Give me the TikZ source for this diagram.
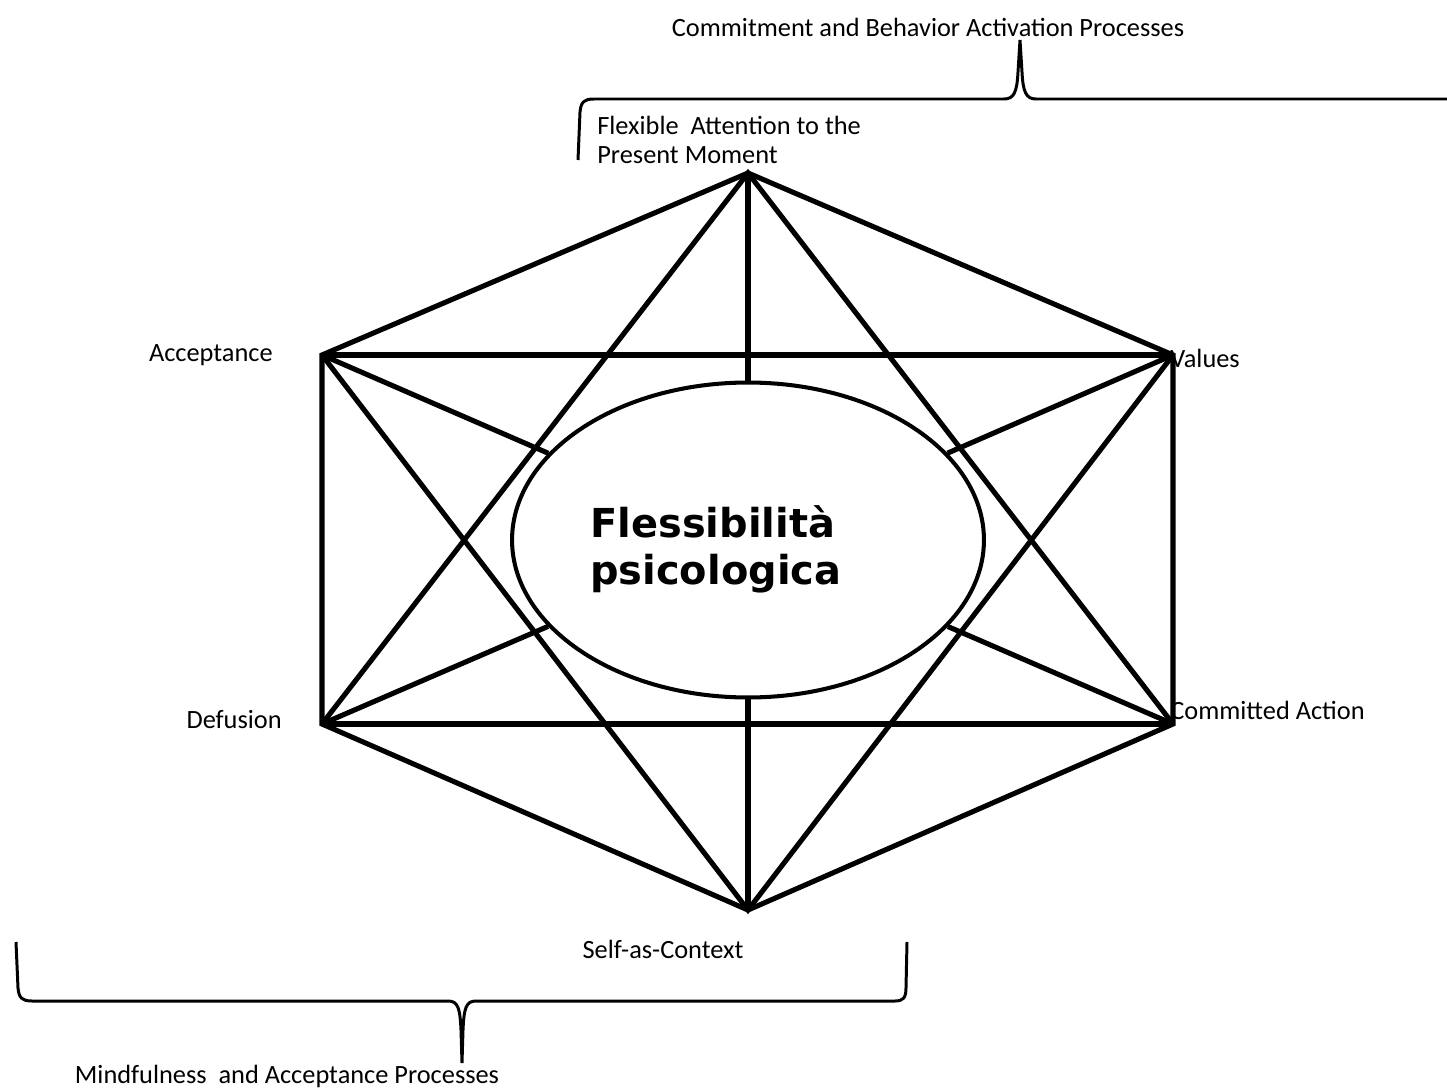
\documentclass[tikz,border=0pt]{standalone}
\usepackage{fontspec}
\setmainfont{Carlito}
\newfontfamily\titlefont{DejaVu Sans Bold}
\usetikzlibrary{positioning,shapes.geometric}

\begin{document}
\begin{tikzpicture}[x=0.02cm, y=-0.02cm,
    edge/.style={line width=2.9pt},
    brace/.style={line width=1.7pt},
    lbl/.style={font=\fontsize{15}{17}\selectfont, inner sep=0pt},
    ttl/.style={font=\titlefont\fontsize{22.7}{26.7}\selectfont, inner sep=0pt, anchor=base west}]
  \useasboundingbox (0,0) rectangle (1447,1088);

  % the six processes
  \coordinate (t) at (748,173);
  \coordinate (a) at (322,355);
  \coordinate (v) at (1173,355);
  \coordinate (d) at (322,724);
  \coordinate (c) at (1173,724);
  \coordinate (s) at (748,910);

  \node[ellipse, draw, line width=2.3pt, fill=white,
        minimum width=9.44cm, minimum height=6.3cm] (psi) at (748,540) {};
  \node[ttl] (title1) at (590,537) {Flessibilità};
  \node[ttl] (title2) at (590,584) {psicologica};

  % hexagon, rectangle and triangles
  \draw[edge] (t) -- (a) -- (d) -- (s) -- (c) -- (v) -- cycle;
  \draw[edge] (a) -- (v) (d) -- (c);
  \draw[edge] (d) -- (t) -- (c) (a) -- (s) -- (v);
  % spokes
  \foreach \p in {t,a,v,d,c,s}
    \draw[edge] (\p) -- (psi);

  % labels
  \node[lbl, anchor=west, align=left] (fam) at (597,140)
    {Flexible~ Attention to the\\Present Moment};
  \node[lbl, anchor=east] (acc) at (273,355) {Acceptance};
  \node[lbl, anchor=west] (val) at (1170,358) {Values};
  \node[lbl, anchor=east] (def) at (282,720) {Defusion};
  \node[lbl, anchor=west] (com) at (1170,710) {Committed Action};
  \node[lbl] (sac) at (663,949) {Self-as-Context};
  \node[lbl] (cba) at (928,27) {Commitment and Behavior Activation Processes};
  \node[lbl] (map) at (287,1076) {Mindfulness~ and Acceptance Processes};

  % braces
  \coordinate (tip1) at (1020,40);
  \coordinate (tip2) at (462,1063);
  \draw[brace] (578,160) -- (580,112) .. controls (581,102) and (584,99) .. (594,99)
    -- (1004,99) .. controls (1014,99) and (1017,92) .. (1018,72) -- (tip1)
    -- (1022,72) .. controls (1023,92) and (1026,99) .. (1036,99) -- (1447,99);
  \draw[brace] (16,942) -- (18,988) .. controls (19,998) and (22,1001) .. (32,1001)
    -- (448,1001) .. controls (458,1001) and (460,1008) .. (461,1030) -- (tip2)
    -- (463,1030) .. controls (464,1008) and (466,1001) .. (476,1001)
    -- (895,1001) .. controls (903,1001) and (906,998) .. (906,988) -- (907,942);
\end{tikzpicture}
\end{document}
